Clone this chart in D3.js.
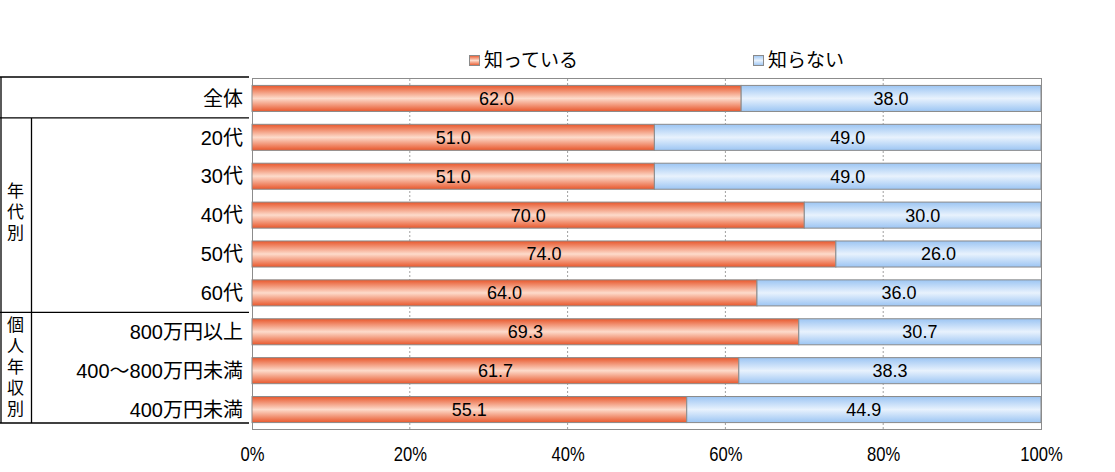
<!DOCTYPE html>
<html><head><meta charset="utf-8">
<script src="https://cdn.jsdelivr.net/npm/d3@7"></script>
<style>body{margin:0;background:#fff;} text{font-family:"Liberation Sans","Noto Sans CJK JP",sans-serif;}</style>
</head><body>
<svg id="c" width="1115" height="472"></svg>
<script>
const categories = ["全体","20代","30代","40代","50代","60代","800万円以上","400～800万円未満","400万円未満"];
const knowValues = [62.0,51.0,51.0,70.0,74.0,64.0,69.3,61.7,55.1];
const dontKnowValues = [38.0,49.0,49.0,30.0,26.0,36.0,30.7,38.3,44.9];
const seriesNames = ["知っている","知らない"];
const tickValues = [0,20,40,60,80,100];
const groups = [{name:"年代別", from:1, to:5},{name:"個人年収別", from:6, to:8}];

(function(){
const svg = d3.select("#c");
const pLeft=252, pRight=1041, pTop=79, pBottom=429;
const x = d3.scaleLinear().domain([0,100]).range([pLeft,pRight]);
const y = d3.scaleBand().domain(categories).range([pTop,pBottom]).paddingInner(0.33).paddingOuter(0.165);

const defs = svg.append("defs");
function grad(id, edge, mid){
  const g = defs.append("linearGradient").attr("id",id).attr("x1",0).attr("x2",0).attr("y1",0).attr("y2",1);
  g.append("stop").attr("offset","0%").attr("stop-color",edge);
  g.append("stop").attr("offset","50%").attr("stop-color",mid);
  g.append("stop").attr("offset","100%").attr("stop-color",edge);
}
grad("gO","#e8572c","#fddbcb");
grad("gB","#9cc5f3","#e8f2fd");

// gridlines
svg.append("g").selectAll("line").data(tickValues.filter(d=>d>0&&d<100)).join("line")
  .attr("x1",d=>x(d)).attr("x2",d=>x(d)).attr("y1",pTop).attr("y2",pBottom)
  .attr("stroke","#a0a0a0").attr("stroke-dasharray","2,2").attr("stroke-width",1);

// plot border
svg.append("rect").attr("x",pLeft+0.5).attr("y",pTop-0.5).attr("width",pRight-pLeft).attr("height",pBottom-pTop+1)
  .attr("fill","none").attr("stroke","#8c8c8c");

const rows = categories.map((c,i)=>({c, a:knowValues[i], b:dontKnowValues[i]}));
const g = svg.append("g");
g.selectAll("rect.a").data(rows).join("rect").attr("class","a")
  .attr("x",x(0)).attr("y",d=>y(d.c)).attr("width",d=>x(d.a)-x(0)).attr("height",y.bandwidth())
  .attr("fill","url(#gO)").attr("stroke","#8a8a8a").attr("stroke-width",1);
g.selectAll("rect.b").data(rows).join("rect").attr("class","b")
  .attr("x",d=>x(d.a)).attr("y",d=>y(d.c)).attr("width",d=>x(d.a+d.b)-x(d.a)).attr("height",y.bandwidth())
  .attr("fill","url(#gB)").attr("stroke","#8a8a8a").attr("stroke-width",1);

g.selectAll("text.la").data(rows).join("text").attr("class","la")
  .attr("x",d=>x(d.a/2)).attr("y",d=>y(d.c)+y.bandwidth()/2).attr("dy","0.36em")
  .attr("text-anchor","middle").attr("font-size",18).text(d=>d.a.toFixed(1));
g.selectAll("text.lb").data(rows).join("text").attr("class","lb")
  .attr("x",d=>x(d.a+d.b/2)).attr("y",d=>y(d.c)+y.bandwidth()/2).attr("dy","0.36em")
  .attr("text-anchor","middle").attr("font-size",18).text(d=>d.b.toFixed(1));

// x axis tick labels
const xAxis = d3.axisBottom(x).tickValues(tickValues).tickFormat(d=>d+"%").tickSize(0).tickPadding(17);
const ax = svg.append("g").attr("transform",`translate(0,${pBottom+1})`).call(xAxis);
ax.select(".domain").remove();
ax.selectAll("text").attr("font-size",20).attr("fill","#000")
  .attr("font-family","'Liberation Sans',sans-serif").attr("transform","scale(0.83,1)");

// category labels
svg.append("g").selectAll("text").data(categories).join("text")
  .attr("x",243).attr("y",d=>y(d)+y.bandwidth()/2).attr("dy","0.36em")
  .attr("text-anchor","end").attr("font-size",20)
  .attr("font-family","'Noto Sans CJK JP',sans-serif").text(d=>d);

// table lines
const T = svg.append("g").attr("stroke","#000").attr("stroke-width",1.3);
const tTop=77, tBottom=423;
const sep1 = (y(categories[0])+y.bandwidth()+y(categories[1]))/2;
const sep2 = (y(categories[5])+y.bandwidth()+y(categories[6]))/2;
T.append("line").attr("x1",0).attr("x2",249).attr("y1",tTop).attr("y2",tTop);
T.append("line").attr("x1",0).attr("x2",249).attr("y1",sep1).attr("y2",sep1);
T.append("line").attr("x1",0).attr("x2",249).attr("y1",sep2).attr("y2",sep2);
T.append("line").attr("x1",0).attr("x2",249).attr("y1",tBottom).attr("y2",tBottom);
T.append("line").attr("x1",1).attr("x2",1).attr("y1",tTop).attr("y2",tBottom);
T.append("line").attr("x1",31.5).attr("x2",31.5).attr("y1",sep1).attr("y2",tBottom);

// group labels (vertical)
const groupTops = {"年代別":191,"個人年収別":325};
groups.forEach(gr=>{
  const chars = Array.from(gr.name);
  svg.append("g").selectAll("text").data(chars).join("text")
    .attr("x",15.5).attr("y",(d,i)=>groupTops[gr.name]+i*21).attr("dy","0.36em")
    .attr("text-anchor","middle").attr("font-size",17)
    .attr("font-family","'Noto Sans CJK JP',sans-serif").text(d=>d);
});

// legend
const legend = [{n:seriesNames[0], f:"url(#gO)", x:469},{n:seriesNames[1], f:"url(#gB)", x:753}];
const lg = svg.append("g");
legend.forEach(l=>{
  lg.append("rect").attr("x",l.x+0.5).attr("y",55.5).attr("width",10).attr("height",10)
    .attr("fill",l.f).attr("stroke","#8a8a8a");
  lg.append("text").attr("x",l.x+15).attr("y",60).attr("dy","0.36em").attr("font-size",19)
    .attr("font-family","'Noto Sans CJK JP',sans-serif").text(l.n);
});
})();
</script>
</body></html>
